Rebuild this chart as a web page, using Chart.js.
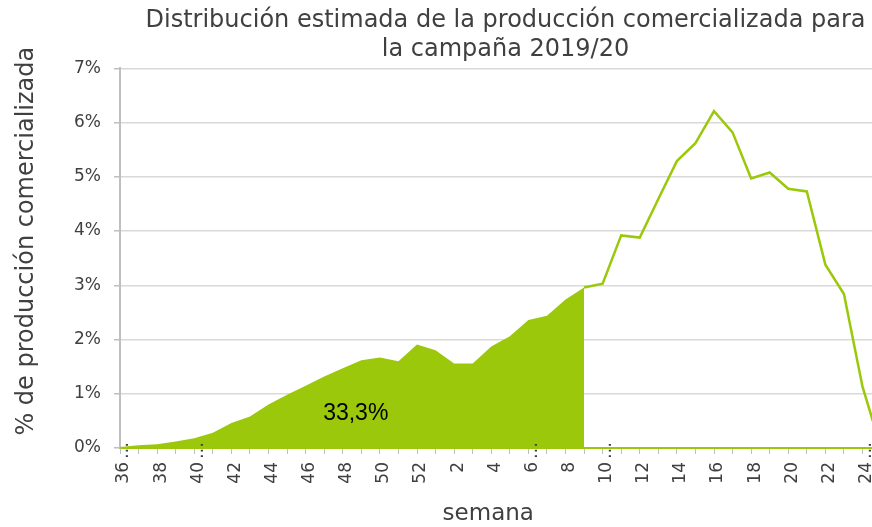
<!DOCTYPE html>
<html>
<head>
<meta charset="utf-8">
<script src="https://cdn.jsdelivr.net/npm/chart.js@4/dist/chart.umd.min.js"></script>
<style>
html,body{margin:0;padding:0;overflow:hidden;background:#ffffff;}
#wrap{width:1011px;height:527px;}
</style>
</head>
<body>
<div id="wrap"><canvas id="c" width="1011" height="527"></canvas></div>
<script>
// ---- data ----
const weeks = ['36','37','38','39','40','41','42','43','44','45','46','47','48','49','50','51','52',
  '1','2','3','4','5','6','7','8','9','10','11','12','13','14','15','16','17','18','19','20','21','22','23','24',
  '25','26','27','28','29','30','31','32'];
const tickLabels = ['36…','','38','','40…','','42','','44','','46','','48','','50','','52',
  '','2','','4','','6…','','8','','10…','','12','','14','','16','','18','','20','','22','','24…',
  '','','','','','','',''];
// share commercialized up to week 9 (area)
const areaWeeks = ['36','37','38','39','40','41','42','43','44','45','46','47','48','49','50','51','52',
  '1','2','3','4','5','6','7','8','9'];
const areaValues = [0.02,0.05,0.07,0.12,0.18,0.28,0.46,0.58,0.80,0.98,1.15,1.32,1.47,1.62,1.67,1.60,1.91,
  1.80,1.56,1.56,1.87,2.06,2.36,2.44,2.74,2.96];
// estimated distribution from week 9 onward (line)
const lineWeeks = ['9','10','11','12','13','14','15','16','17','18','19','20','21','22','23','24','25'];
const lineValues = [2.96,3.03,3.92,3.88,4.59,5.29,5.62,6.21,5.82,4.97,5.08,4.78,4.73,3.38,2.84,1.13,0.0];
const yTicks = [0,1,2,3,4,5,6,7];
const titleLines = ['Distribución estimada de la producción comercializada para','la campaña 2019/20'];
const yTitle = '% de producción comercializada';
const xTitle = 'semana';
const areaLabel = '33,3%';

// ---- build series aligned to categories ----
function align(catList, vals, from){
  const out = weeks.map(()=>null);
  const start = weeks.indexOf(catList[0], from || 0);
  vals.forEach((v,k)=>{ out[start+k] = v; });
  return out;
}
const areaData = align(areaWeeks, areaValues, 0);
const lineData = align(lineWeeks, lineValues, 17);

const GREEN = '#9BC80B';
const TEXT = '#404040';
const FONT = 'DejaVu Sans';
const LABEL_SHIFT = 4;

const extras = {
  id:'extras',
  afterDraw(chart){
    const {ctx, chartArea:a, scales:{x,y}} = chart;
    ctx.save();
    ctx.fillStyle = TEXT;
    // y axis title
    ctx.font = '24px "' + FONT + '"';
    ctx.save();
    ctx.translate(27, (a.top + a.bottom)/2 - 17);
    ctx.rotate(-Math.PI/2);
    ctx.textAlign = 'center';
    ctx.textBaseline = 'middle';
    ctx.fillText(yTitle, 0, 0);
    ctx.restore();
    // x axis title
    ctx.font = '23px "' + FONT + '"';
    ctx.textAlign = 'center';
    ctx.textBaseline = 'middle';
    const lastLabeled = tickLabels.reduce((m,t,i)=> t ? i : m, 0);
    ctx.fillText(xTitle, (a.left + x.getPixelForValue(lastLabeled))/2 - 3, 514);
    // truncated-label ellipsis
    ctx.font = '17px "' + FONT + '"';
    tickLabels.forEach((t,i)=>{
      if (t.endsWith('…')) {
        ctx.save();
        ctx.translate(x.getPixelForValue(i) + LABEL_SHIFT, a.bottom + 11);
        ctx.rotate(-Math.PI/2);
        ctx.textAlign = 'left';
        ctx.textBaseline = 'middle';
        ctx.fillText('…', 0, 0);
        ctx.restore();
      }
    });
    // area total label
    ctx.fillStyle = '#000000';
    ctx.font = '23px "Liberation Sans"';
    ctx.textAlign = 'center';
    ctx.textBaseline = 'middle';
    ctx.fillText(areaLabel, x.getPixelForValue(12.7), y.getPixelForValue(0.64));
    ctx.restore();
  }
};

new Chart(document.getElementById('c'), {
  type:'line',
  data:{
    labels: weeks,
    datasets:[
      {label:'Acumulado', data: areaData, fill:'origin', backgroundColor: GREEN, borderColor: GREEN,
       borderWidth:0, pointRadius:0, tension:0, spanGaps:false},
      {label:'Distribución', data: lineData, fill:false, borderColor: GREEN, borderWidth:2.5,
       pointRadius:0, tension:0, spanGaps:false}
    ]
  },
  options:{
    responsive:false, animation:false, devicePixelRatio:1,
    layout:{padding:0},
    plugins:{
      legend:{display:false},
      tooltip:{enabled:false},
      title:{display:true, text:titleLines, color:TEXT,
        font:{family:FONT, size:24, weight:'normal', lineHeight:1.18}, padding:{top:7, bottom:4.7}}
    },
    scales:{
      x:{
        type:'category', offset:false,
        grid:{drawOnChartArea:false, drawTicks:true, tickLength:6, color:'#BFBFBF', lineWidth:1},
        border:{display:true, color:GREEN, width:2},
        ticks:{autoSkip:false, minRotation:90, maxRotation:90, padding:8, labelOffset:LABEL_SHIFT, color:TEXT,
          font:{family:FONT, size:17},
          callback:(v,i)=> tickLabels[i].replace('…','')},
        afterFit(s){ s.height = 79; s.paddingLeft = 0; s.paddingRight = 0; }
      },
      y:{
        min:0, max:7,
        afterBuildTicks(s){ s.ticks = yTicks.map(v=>({value:v})); },
        grid:{color:'#D9D9D9', lineWidth:1.5, tickLength:6, tickColor:'#BFBFBF'},
        border:{display:true, color:'#BFBFBF', width:2},
        ticks:{padding:13, color:TEXT, font:{family:FONT, size:17}, callback:v=> v + '%'},
        afterFit(s){ s.width = 120; s.paddingTop = 0; s.paddingBottom = 0; }
      }
    }
  },
  plugins:[extras]
});
</script>
</body>
</html>
